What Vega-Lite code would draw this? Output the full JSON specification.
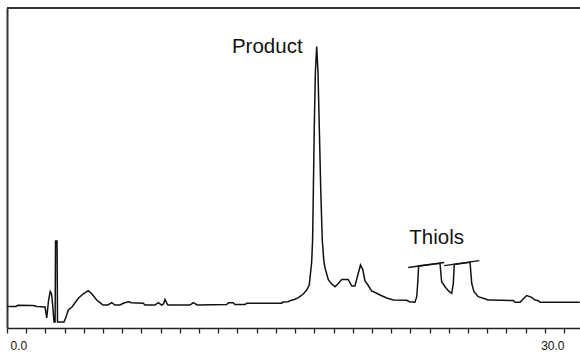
{
  "$schema": "https://vega.github.io/schema/vega-lite/v6.json",
  "width": 573,
  "height": 320,
  "autosize": {"type": "none"},
  "padding": {"left": 7, "top": 8, "right": 0, "bottom": 26},
  "background": "white",
  "config": {"view": {"stroke": null}},
  "datasets": {
    "trace": [
      {"t": 0, "s": 21.5}, {"t": 0.48, "s": 21.5}, {"t": 0.59, "s": 22.7}, {"t": 1.40, "s": 22.5},
      {"t": 1.62, "s": 21.5}, {"t": 2.05, "s": 21}, {"t": 2.14, "s": 10}, {"t": 2.24, "s": 28},
      {"t": 2.33, "s": 36.5}, {"t": 2.40, "s": 34}, {"t": 2.46, "s": 23}, {"t": 2.53, "s": 6},
      {"t": 2.59, "s": 6}, {"t": 2.615, "s": 87}, {"t": 2.695, "s": 87}, {"t": 2.72, "s": 6},
      {"t": 3.07, "s": 6}, {"t": 3.18, "s": 11}, {"t": 3.30, "s": 18}, {"t": 3.50, "s": 21},
      {"t": 3.84, "s": 29.7}, {"t": 4.09, "s": 34}, {"t": 4.38, "s": 37.3}, {"t": 4.58, "s": 34},
      {"t": 4.83, "s": 28}, {"t": 5.01, "s": 25.3}, {"t": 5.17, "s": 23}, {"t": 5.44, "s": 23},
      {"t": 5.64, "s": 25.3}, {"t": 5.82, "s": 23}, {"t": 6.09, "s": 23}, {"t": 6.26, "s": 24.7},
      {"t": 6.53, "s": 26.3}, {"t": 6.72, "s": 25.3}, {"t": 7.34, "s": 24.7}, {"t": 7.43, "s": 23},
      {"t": 7.97, "s": 23}, {"t": 8.15, "s": 25.3}, {"t": 8.33, "s": 23}, {"t": 8.43, "s": 24},
      {"t": 8.51, "s": 28.5}, {"t": 8.66, "s": 23}, {"t": 9.86, "s": 23}, {"t": 10.03, "s": 25.3},
      {"t": 10.25, "s": 23}, {"t": 11.83, "s": 23.5}, {"t": 11.93, "s": 25.3}, {"t": 12.17, "s": 25.3},
      {"t": 12.28, "s": 23.5}, {"t": 12.82, "s": 23.5}, {"t": 12.91, "s": 24.7}, {"t": 14.80, "s": 24.7},
      {"t": 14.85, "s": 26}, {"t": 15.15, "s": 26.3}, {"t": 15.24, "s": 27.3}, {"t": 15.51, "s": 28.7},
      {"t": 15.69, "s": 30.3}, {"t": 15.96, "s": 34}, {"t": 16.14, "s": 38}, {"t": 16.28, "s": 43},
      {"t": 16.41, "s": 66}, {"t": 16.46, "s": 88}, {"t": 16.50, "s": 137}, {"t": 16.55, "s": 201},
      {"t": 16.61, "s": 256}, {"t": 16.68, "s": 281.5}, {"t": 16.75, "s": 256}, {"t": 16.82, "s": 201},
      {"t": 16.90, "s": 137}, {"t": 16.98, "s": 88}, {"t": 17.07, "s": 66}, {"t": 17.13, "s": 60},
      {"t": 17.31, "s": 48}, {"t": 17.49, "s": 44}, {"t": 17.67, "s": 41.3}, {"t": 17.84, "s": 44.5},
      {"t": 18.03, "s": 48.5}, {"t": 18.37, "s": 48.5}, {"t": 18.57, "s": 42}, {"t": 18.74, "s": 42},
      {"t": 18.92, "s": 54.7}, {"t": 19.04, "s": 63}, {"t": 19.17, "s": 58}, {"t": 19.28, "s": 47},
      {"t": 19.44, "s": 43}, {"t": 19.64, "s": 37}, {"t": 19.91, "s": 34.7}, {"t": 20.09, "s": 33},
      {"t": 20.45, "s": 30}, {"t": 20.81, "s": 28}, {"t": 21.53, "s": 27.7}, {"t": 21.67, "s": 26.3},
      {"t": 21.97, "s": 25.7}, {"t": 22.07, "s": 31.3}, {"t": 22.12, "s": 44.7}, {"t": 22.17, "s": 62},
      {"t": 23.32, "s": 64.7}, {"t": 23.41, "s": 46.3}, {"t": 23.59, "s": 41.3}, {"t": 23.77, "s": 37.3},
      {"t": 23.95, "s": 34.7}, {"t": 24.04, "s": 44.7}, {"t": 24.09, "s": 63.5}, {"t": 24.94, "s": 65.7},
      {"t": 25.03, "s": 44.7}, {"t": 25.15, "s": 36.3}, {"t": 25.38, "s": 31.3}, {"t": 25.65, "s": 29.7},
      {"t": 25.92, "s": 28}, {"t": 26.11, "s": 28}, {"t": 27.27, "s": 27.5}, {"t": 27.36, "s": 25.7},
      {"t": 27.63, "s": 25.7}, {"t": 27.99, "s": 32.5}, {"t": 28.26, "s": 30.7}, {"t": 28.44, "s": 28},
      {"t": 28.62, "s": 27.3}, {"t": 28.71, "s": 25.7}, {"t": 30.85, "s": 25.7}
    ],
    "baselines": [
      {"seg": "a", "t": 21.61, "s": 60.5}, {"seg": "a", "t": 23.55, "s": 65.5},
      {"seg": "b", "t": 23.55, "s": 62.3}, {"seg": "b", "t": 25.44, "s": 67.3}
    ],
    "productLabel": [{"label": "Product", "t": 15.92, "s": 275}],
    "thiolsLabel": [{"label": "Thiols", "t": 21.67, "s": 84}]
  },
  "layer": [
    {
      "data": {"name": "trace"},
      "mark": {"type": "line", "color": "#111111", "strokeWidth": 1.5},
      "encoding": {
        "x": {
          "field": "t", "type": "quantitative",
          "scale": {"domain": [0, 30.862], "nice": false, "zero": false},
          "axis": {
            "values": [0, 1.0345, 2.069, 3.1034, 4.1379, 5.1724, 6.2069, 7.2414, 8.2759, 9.3103, 10.3448, 11.3793, 12.4138, 13.4483, 14.4828, 15.5172, 16.5517, 17.5862, 18.6207, 19.6552, 20.6897, 21.7241, 22.7586, 23.7931, 24.8276, 25.8621, 26.8966, 27.931, 28.9655, 30],
            "tickCount": 60,
            "labelExpr": "datum.value == 0 ? '0.0' : (abs(datum.value - 30) < 0.01 ? '30.0' : '')",
            "labelFlush": false,
            "labelOverlap": false,
            "labelAlign": {"condition": {"test": "datum.value < 1", "value": "left"}, "value": "right"},
            "labelOffset": {"condition": {"test": "datum.value < 1", "value": 3}, "value": 0},
            "labelFont": "Liberation Sans",
            "labelFontSize": 12,
            "labelColor": "#111111",
            "labelPadding": 7,
            "tickSize": 5,
            "tickColor": "#222222",
            "tickWidth": 1.3,
            "domainColor": "#222222",
            "domainWidth": 1.6,
            "grid": false,
            "title": null
          }
        },
        "y": {
          "field": "s", "type": "quantitative",
          "scale": {"domain": [0, 320], "nice": false, "zero": false},
          "axis": {"labels": false, "ticks": false, "grid": false, "title": null, "domainColor": "#333333", "domainWidth": 2}
        }
      }
    },
    {
      "data": {"name": "baselines"},
      "mark": {"type": "line", "color": "#111111", "strokeWidth": 1.3},
      "encoding": {
        "x": {"field": "t", "type": "quantitative", "title": null},
        "y": {"field": "s", "type": "quantitative", "title": null},
        "detail": {"field": "seg", "type": "nominal"}
      }
    },
    {
      "data": {"values": [{}]},
      "mark": {"type": "rule", "color": "#333333", "strokeWidth": 2},
      "encoding": {"y": {"datum": 320}}
    },
    {
      "data": {"name": "productLabel"},
      "mark": {"type": "text", "align": "right", "baseline": "alphabetic", "font": "Liberation Sans", "fontSize": 20.5, "color": "#111111"},
      "encoding": {
        "x": {"field": "t", "type": "quantitative", "title": null},
        "y": {"field": "s", "type": "quantitative", "title": null},
        "text": {"field": "label"}
      }
    },
    {
      "data": {"name": "thiolsLabel"},
      "mark": {"type": "text", "align": "left", "baseline": "alphabetic", "font": "Liberation Sans", "fontSize": 20.5, "color": "#111111"},
      "encoding": {
        "x": {"field": "t", "type": "quantitative", "title": null},
        "y": {"field": "s", "type": "quantitative", "title": null},
        "text": {"field": "label"}
      }
    }
  ]
}
